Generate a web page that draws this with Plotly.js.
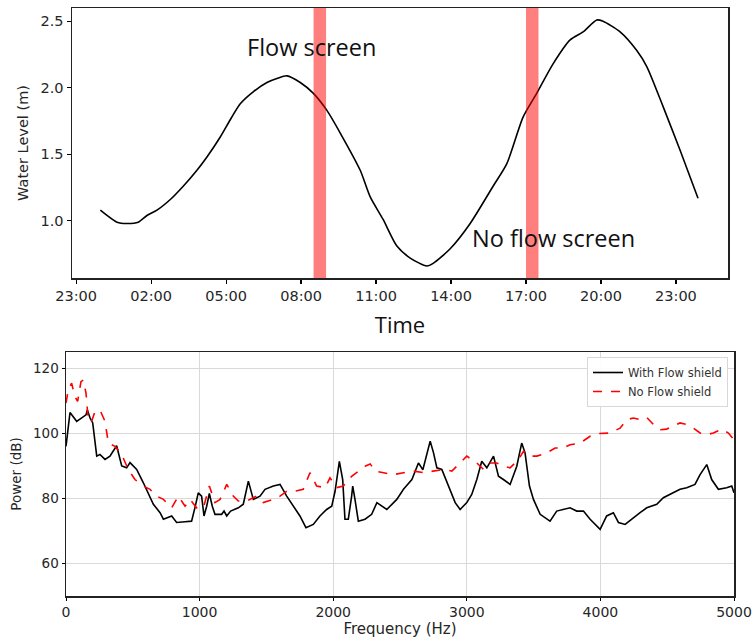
<!DOCTYPE html>
<html>
<head>
<meta charset="utf-8">
<script src="https://cdn.plot.ly/plotly-3.0.1.min.js"></script>
<style>html,body{margin:0;padding:0;background:#fff}#chart{width:754px;height:639px}</style>
</head>
<body>
<div id="chart"></div>
<script>
// ---- Top panel: water level ----
const levelTimes = [
  "2020-01-01 23:58","2020-01-02 00:38","2020-01-02 01:02","2020-01-02 01:29","2020-01-02 01:50",
  "2020-01-02 02:14","2020-01-02 02:46","2020-01-02 03:17","2020-01-02 03:50","2020-01-02 04:14",
  "2020-01-02 04:46","2020-01-02 05:10","2020-01-02 05:34","2020-01-02 06:05","2020-01-02 06:38",
  "2020-01-02 07:02","2020-01-02 07:26","2020-01-02 07:58","2020-01-02 08:29","2020-01-02 09:02",
  "2020-01-02 09:34","2020-01-02 10:22","2020-01-02 10:46","2020-01-02 11:17","2020-01-02 11:50",
  "2020-01-02 12:22","2020-01-02 13:02","2020-01-02 13:17","2020-01-02 13:58","2020-01-02 14:46",
  "2020-01-02 15:41","2020-01-02 16:14","2020-01-02 16:53","2020-01-02 17:26","2020-01-02 18:05",
  "2020-01-02 18:46","2020-01-02 19:17","2020-01-02 19:50","2020-01-02 20:05","2020-01-02 20:46",
  "2020-01-02 21:26","2020-01-02 21:50","2020-01-02 22:29","2020-01-02 23:10","2020-01-02 23:53"
];
const waterLevel = [
  1.08,0.99,0.98,0.99,1.04,
  1.08,1.16,1.26,1.38,1.48,
  1.63,1.76,1.88,1.97,2.04,
  2.07,2.09,2.04,1.96,1.83,
  1.66,1.38,1.18,1.01,0.81,
  0.72,0.66,0.68,0.79,0.98,
  1.26,1.43,1.78,1.96,2.18,
  2.36,2.42,2.51,2.50,2.42,
  2.28,2.16,1.86,1.53,1.17
];
const timeTicks = ["2020-01-01 23:00","2020-01-02 02:00","2020-01-02 05:00","2020-01-02 08:00","2020-01-02 11:00",
  "2020-01-02 14:00","2020-01-02 17:00","2020-01-02 20:00","2020-01-02 23:00"];
const timeTickLabels = ["23:00","02:00","05:00","08:00","11:00","14:00","17:00","20:00","23:00"];
const bandStarts = ["2020-01-02 08:30","2020-01-02 17:00"];
const bandEnds   = ["2020-01-02 09:00","2020-01-02 17:30"];
const bandLabels = ["Flow screen","No flow screen"];

// ---- Bottom panel: power spectra ----
const freqWith = [0,30,80,117,150,160,180,200,230,254,292,329,379,417,454,479,529,579,616,654,704,729,791,828,891,940,965,990,1015,1033,1053,1073,1095,1115,1165,1183,1203,1232,1290,1327,1365,1402,1452,1490,1552,1602,1652,1702,1751,1796,1851,1901,1951,1989,2014,2046,2071,2088,2113,2138,2146,2163,2188,2238,2288,2327,2377,2401,2476,2526,2589,2638,2671,2701,2726,2751,2776,2813,2863,2913,2950,3000,3037,3075,3112,3150,3200,3237,3274,3324,3374,3411,3436,3469,3499,3549,3623,3673,3773,3823,3873,3923,3998,4047,4097,4135,4185,4247,4297,4347,4422,4471,4521,4596,4646,4708,4746,4796,4833,4883,4945,4983,5000];
const powerWith = [96,106.4,103.7,104.7,105.7,107.2,104.7,103.2,93,93.5,92,93,96.2,90,89.4,91,88.9,84.8,81.7,78.2,75.6,73.6,74.6,72.6,72.8,73,77.1,81.7,80.7,74.6,77.6,81.5,77.6,75.1,75.1,76.1,74.6,76.1,77.1,78.2,85.3,79.7,80.7,82.8,83.8,84.3,80.7,77.6,74.6,71,72,74.6,76.6,77.6,82.2,91.4,85.8,73.6,73.6,80.7,83.8,79.7,73,73.6,75.1,78.7,77.1,76.6,79.7,82.8,85.8,90.9,88.8,93.9,97.6,94,89.4,88.9,83.8,78.7,76.6,78.7,81.2,85.8,91.4,89.4,93,86.8,85.8,84.3,89.9,97,94,83.8,79.7,75.1,73,76.1,77.1,76.1,76.1,73.6,70.5,74.6,75.6,72.6,72,74.1,75.6,77.1,78.2,80.2,81.2,82.8,83.3,84.3,87.3,90.4,85.8,82.8,83.3,83.8,81.7];
const freqNo = [0,17,42,67,87,112,130,150,167,192,217,254,292,317,367,417,466,516,579,629,679,729,791,841,891,928,978,1028,1073,1115,1153,1203,1252,1290,1352,1427,1477,1552,1602,1652,1714,1776,1826,1876,1939,1976,2026,2076,2138,2188,2238,2277,2314,2377,2451,2526,2601,2676,2751,2825,2888,2950,3000,3037,3075,3125,3175,3224,3274,3324,3387,3424,3461,3524,3599,3661,3723,3773,3848,3923,3973,4072,4147,4197,4247,4297,4347,4397,4446,4496,4546,4596,4646,4696,4746,4796,4845,4908,4958,5000];
const powerNo = [109.3,113.4,115.4,111.3,109.8,115.9,116.4,112.3,103.7,103.7,106.7,107.2,103.7,97,96,93.5,88.9,85.8,83.8,82.8,80.7,79.7,77.1,80.7,77.6,79.7,77.1,77.1,83.8,78.7,79.7,84.3,80.7,79.2,79.2,80.7,78.7,79.7,80.7,82.2,82.2,82.8,87.9,83.8,83.3,86.3,83.3,83.8,86.8,88.4,89.9,90.6,88.4,87.9,87.3,87.9,88.4,87.9,88.4,88.9,88.4,90.9,93,91.9,90.9,88.9,90.9,90.9,89.9,89.4,91.9,94.5,93,93,94,95.5,95.5,96.5,97,99.1,99.9,100.1,101.6,104.2,104.7,104.2,104.9,102.7,101.1,101.3,102.2,103.2,102.7,101.6,100.1,99.6,100.1,101.3,100.1,98];
const seriesNames = ["With Flow shield","No Flow shield"];

const W = 754, H = 639;
const px = v => v / W, py = v => 1 - v / H;
const axisText = "#262626";

const traces = [
  {x: levelTimes, y: waterLevel, xaxis: "x", yaxis: "y", mode: "lines",
   line: {color: "#000", width: 1.6, shape: "spline", smoothing: 0.7}, showlegend: false, hoverinfo: "x+y"},
  {x: freqWith, y: powerWith, xaxis: "x2", yaxis: "y2", mode: "lines", name: seriesNames[0],
   line: {color: "#000", width: 1.6}},
  {x: freqNo, y: powerNo, xaxis: "x2", yaxis: "y2", mode: "lines", name: seriesNames[1],
   line: {color: "#ff0000", width: 1.6, dash: "dash"}}
];

const shapes = bandStarts.map((s, i) => ({
  type: "rect", xref: "x", yref: "y domain", x0: s, x1: bandEnds[i], y0: 0, y1: 1,
  fillcolor: "rgba(255,0,0,0.5)", line: {width: 0}, layer: "above"
}));

const layout = {
  width: W, height: H,
  margin: {l: 0, r: 0, t: 0, b: 0},
  paper_bgcolor: "#fff", plot_bgcolor: "#fff",
  font: {family: "DejaVu Sans, sans-serif", color: axisText},
  showlegend: true,
  legend: {x: px(728), xanchor: "right", y: py(357), yanchor: "top",
    bgcolor: "rgba(255,255,255,0.9)", bordercolor: "#d8d8d8", borderwidth: 1,
    font: {size: 11.5, color: "#333"}, tracegroupgap: 0},
  xaxis: {domain: [px(72), px(728)], anchor: "y", type: "date",
    range: ["2020-01-01 22:50", "2020-01-03 01:05"],
    tickmode: "array", tickvals: timeTicks, ticktext: timeTickLabels,
    ticks: "outside", ticklen: 4, tickwidth: 1.2, tickcolor: "#000",
    showline: true, linecolor: "#222", linewidth: 1.5, mirror: true,
    showgrid: false, zeroline: false, tickfont: {size: 14.5},
    title: {text: "Time", font: {family: "Open Sans, sans-serif", size: 22, color: "#111"}, standoff: 14}},
  yaxis: {domain: [py(278), py(8)], anchor: "x", range: [0.57, 2.6],
    tickvals: [1.0, 1.5, 2.0, 2.5], ticktext: ["1.0","1.5","2.0","2.5"],
    ticks: "outside", ticklen: 4, tickwidth: 1.2, tickcolor: "#000",
    showline: true, linecolor: "#222", linewidth: 1.5, mirror: true,
    showgrid: false, zeroline: false, tickfont: {size: 14.5},
    title: {text: "Water Level (m)", font: {size: 14.5}, standoff: 8}},
  xaxis2: {domain: [px(66), px(734)], anchor: "y2", range: [0, 5000],
    tickvals: [0, 1000, 2000, 3000, 4000, 5000],
    ticks: "outside", ticklen: 3, tickcolor: "#000",
    showline: true, linecolor: "#222", linewidth: 1.5, mirror: true,
    showgrid: true, gridcolor: "#d9d9d9", gridwidth: 1, zeroline: false,
    tickfont: {size: 14},
    title: {text: "Frequency (Hz)", font: {size: 15}, standoff: 3}},
  yaxis2: {domain: [py(596), py(352)], anchor: "x2", range: [50, 125],
    tickvals: [60, 80, 100, 120],
    ticks: "outside", ticklen: 3, tickcolor: "#000",
    showline: true, linecolor: "#222", linewidth: 1.5, mirror: true,
    showgrid: true, gridcolor: "#d9d9d9", gridwidth: 1, zeroline: false,
    tickfont: {size: 13.5},
    title: {text: "Power (dB)", font: {size: 13.5}, standoff: 8}},
  shapes: shapes,
  annotations: [
    {xref: "paper", yref: "paper", x: px(311), y: py(47), xanchor: "center", yanchor: "middle",
     text: bandLabels[0], showarrow: false,
     font: {family: "Open Sans, sans-serif", size: 23.5, color: "#111"}},
    {xref: "paper", yref: "paper", x: px(553), y: py(238), xanchor: "center", yanchor: "middle",
     text: bandLabels[1], showarrow: false,
     font: {family: "Open Sans, sans-serif", size: 23.5, color: "#111"}}
  ]
};

Plotly.newPlot("chart", traces, layout, {displayModeBar: false, staticPlot: true});
</script>
</body>
</html>
